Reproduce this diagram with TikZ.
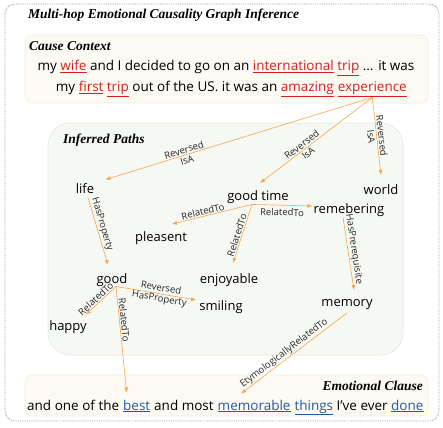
\documentclass[tikz,border=0pt]{standalone}
\usepackage{fontspec}
\setmainfont{Open Sans}
\newfontfamily\headfont{Liberation Serif}
\usepackage{xcolor}
\usetikzlibrary{positioning,arrows.meta}
\definecolor{edgeorange}{RGB}{246,166,78}
\definecolor{causered}{RGB}{212,32,32}
\definecolor{clauseblue}{RGB}{32,92,164}
\definecolor{cream}{RGB}{253,250,243}
\definecolor{creamline}{RGB}{242,236,222}
\definecolor{pathfill}{RGB}{246,248,244}
\definecolor{pathline}{RGB}{228,232,226}
\newcommand{\cw}[1]{\textcolor{causered}{\underline{#1}}}
\newcommand{\ew}[1]{\textcolor{clauseblue}{\underline{#1}}}
\tikzstyle{concept} = [on grid, font=\fontsize{13}{15}\selectfont, text=black, inner sep=1pt, text height=9.5pt, text depth=3pt]
\tikzstyle{ctxtext} = [font=\fontsize{13.5}{15}\selectfont, text=black, inner sep=0pt]
\tikzstyle{rellabel} = [font=\fontsize{9.5}{10.5}\selectfont, text=black!85, inner sep=1pt, align=center, sloped]
\tikzstyle{boxtitle} = [font=\headfont\bfseries\itshape\fontsize{13.5}{15}\selectfont, inner sep=0pt]
\tikzstyle{tedge}  = [draw=edgeorange, line width=0.6pt, -{Latex[length=5pt,width=4pt]}]
\tikzstyle{outerbox} = [draw=black!40, densely dotted, line width=0.8pt, rounded corners=10pt]
\tikzstyle{textbox} = [draw=creamline, fill=cream, line width=0.6pt, rounded corners=7pt]
\tikzstyle{pathbox} = [draw=pathline, fill=pathfill, line width=0.6pt, rounded corners=22pt]

\begin{document}
\begin{tikzpicture}[x=1pt, y=-1pt]
\useasboundingbox (0,0) rectangle (443,427);

% frames =============================
\draw[outerbox] (5,4) rectangle (439,421);
\draw[textbox] (25,35) rectangle (428,103);
\draw[pathbox] (48,123) rectangle (403,355);
\draw[textbox] (25,375) rectangle (428,416);

\node[boxtitle, anchor=west] (title) at (28,15) {Multi-hop Emotional Causality Graph Inference};
\node[boxtitle, anchor=west] (ctxtitle) at (29,46) {Cause Context};
\node[boxtitle, anchor=west] (pathtitle) at (63,140) {Inferred Paths};
\node[boxtitle, anchor=east] (clausetitle) at (423,386) {Emotional Clause};

% cause context
\node[ctxtext, anchor=base] (ctxA) at (226,71) {my \cw{wife} and I decided to go on an \cw{international} \cw{trip} ... it was};
\node[ctxtext, anchor=base east] (exp) at (407,92) {\cw{experience}};
\node[ctxtext, base left=3.6pt of exp] (ctxB) {my \cw{first} \cw{trip} out of the US. it was an \cw{amazing}};

% emotional clause
\node[ctxtext, anchor=base west] (clA) at (27,410) {and one of the};
\node[ctxtext, base right=3.6pt of clA] (best) {\ew{best}};
\node[ctxtext, base right=3.6pt of best] (clB) {and most};
\node[ctxtext, base right=3.6pt of clB] (memorable) {\ew{memorable}};
\node[ctxtext, base right=3.6pt of memorable] (clC) {\ew{things} I've ever \ew{done}};

% concepts
\node[concept] (gtime) at (258,197) {good time};
\node[concept, above left=7pt and 173pt of gtime] (life) {life};
\node[concept, above right=6pt and 123pt of gtime] (world) {world};
\node[concept, below right=13pt and 91pt of gtime] (remem) {remebering};
\node[concept, below left=41pt and 97pt of gtime] (pleas) {pleasent};
\node[concept, below left=83pt and 29pt of gtime] (enjoy) {enjoyable};
\node[concept, below right=90pt and 27pt of life] (good) {good};
\node[concept, below right=27pt and 109pt of good] (smil) {smiling};
\node[concept, below left=47pt and 44pt of good] (happy) {happy};
\node[concept, below left=93pt and 2pt of remem] (memory) {memory};

%edges
\path[tedge] (exp.south) -- node[rellabel, pos=.7] {Reversed\\IsA} ([xshift=10pt,yshift=3pt]life.north east);
\path[tedge] (exp.south) -- node[rellabel, pos=.6] {Reversed\\IsA} ([xshift=2pt,yshift=6.5pt]gtime.north);
\path[tedge] (exp.south) -- node[rellabel, pos=.5] {Reversed\\IsA} ([yshift=8.5pt]world.north);

\path[tedge] ([xshift=-6pt]gtime.south) -- node[rellabel, above, pos=.6] {RelatedTo} ([xshift=11pt,yshift=6.5pt]pleas.north);
\path[tedge] ([xshift=-6pt]gtime.south) -- node[rellabel, below=2pt, pos=.5] {RelatedTo} ([yshift=4pt]remem.west);
\path[tedge] ([xshift=-6pt]gtime.south) -- node[rellabel, above, pos=.55] {RelatedTo} ([xshift=4pt,yshift=9.5pt]enjoy.north);

\path[tedge] ([xshift=-6pt]remem.south) -- node[rellabel, above, pos=.45] {HasPrerequisite} ([xshift=7pt,yshift=5.5pt]memory.north);
\path[tedge] ([xshift=3pt]life.south) -- node[rellabel, above, pos=.42] {HasProperty} ([xshift=-4pt,yshift=7.5pt]good.north);

\path[tedge] ([xshift=4pt,yshift=1pt]good.south) -- node[rellabel, above, pos=.56] {RelatedTo} ([xshift=-2pt,yshift=5pt]happy.north east);
\path[tedge] ([xshift=4pt,yshift=1pt]good.south) -- node[rellabel, pos=.55] {Reversed\\HasProperty} ([xshift=-2pt,yshift=7pt]smil.west);
\path[tedge] ([xshift=4pt,yshift=1pt]good.south) -- node[rellabel, above, pos=.32] {RelatedTo} ([xshift=-10pt,yshift=7pt]best.north);
\path[tedge] ([yshift=-2.5pt]memory.south) -- node[rellabel, above, pos=.56] {EtymologicallyRelatedTo} ([xshift=-13pt,yshift=6pt]memorable.north);

\end{tikzpicture}
\end{document}
